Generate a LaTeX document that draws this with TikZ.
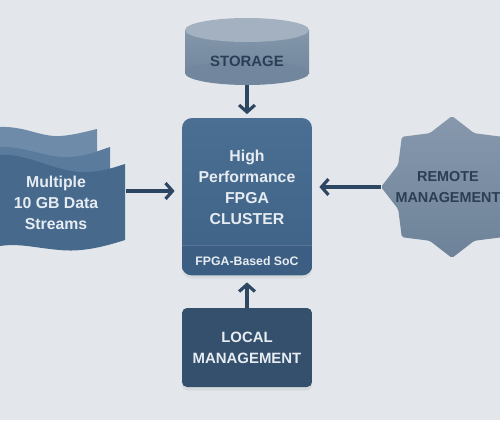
\documentclass[tikz,border=0pt]{standalone}
\usepackage{fontspec}
\setmainfont{Liberation Sans}
\usetikzlibrary{arrows.meta,shapes.geometric,shadows}

\definecolor{bgcol}{HTML}{E3E7EB}
\definecolor{linkcol}{HTML}{2D4763}
\definecolor{navytext}{HTML}{2C3E55}
\definecolor{lighttext}{HTML}{E6ECF2}
\definecolor{clustertop}{HTML}{4B6F93}
\definecolor{clusterbot}{HTML}{3E6286}
\definecolor{socband}{HTML}{3B5E82}
\definecolor{localcol}{HTML}{35506C}
\definecolor{storetop}{HTML}{A3B1C0}
\definecolor{storeup}{HTML}{8497AB}
\definecolor{storelow}{HTML}{72879D}
\definecolor{startop}{HTML}{8798AD}
\definecolor{starbot}{HTML}{6D8298}
\definecolor{sheetback}{HTML}{6E8CAA}
\definecolor{sheetmid}{HTML}{5A7B9C}
\definecolor{sheetfront}{HTML}{46698C}

\tikzset{
  link/.style={draw=linkcol, line width=1.8pt, -{Straight Barb[length=4pt,width=9pt]}},
  boxtext/.style={text=lighttext, font=\bfseries\fontsize{9}{12}\selectfont, align=center},
  darktext/.style={text=navytext, font=\bfseries\fontsize{8.5}{11.5}\selectfont, align=center},
  softshadow/.style={drop shadow={opacity=.12, shadow xshift=0pt, shadow yshift=-2pt}},
}

\begin{document}
\begin{tikzpicture}[x=0.02cm, y=-0.02cm]
  % canvas
  \clip (0,0) rectangle (500,420);
  \fill[bgcol] (0,0) rectangle (500,420);

  % storage
  \shade[top color=storeup, bottom color=storelow] (185,30) rectangle (309,73);
  \fill[storelow] (247,73) ellipse [x radius=62, y radius=12];
  \fill[storetop] (247,30) ellipse [x radius=62, y radius=12];
  \node[darktext] (storage) at (247,61) {STORAGE};
  \coordinate (storagebase) at (247,85);

  % fpga cluster
  \node[rounded corners=0.2cm, minimum width=2.6cm, minimum height=3.14cm,
        top color=clustertop, bottom color=clusterbot, softshadow] (cluster) at (247,196.5) {};
  \begin{scope}
    \clip[rounded corners=0.2cm] (cluster.south west) rectangle (cluster.north east);
    \fill[socband] (182,245) rectangle (312,276);
    \draw[white, opacity=.15] (182,245) -- (312,245);
  \end{scope}
  \node[boxtext] (clustertitle) at (247,187) {High\\Performance\\FPGA\\CLUSTER};
  \node[boxtext, font=\bfseries\fontsize{7}{8}\selectfont] (soc) at (247,261) {FPGA-Based SoC};

  % local management
  \node[fill=localcol, rounded corners=0.1cm, minimum width=2.6cm, minimum height=1.58cm,
        boxtext, font=\bfseries\fontsize{8.5}{12}\selectfont, softshadow] (local) at (247,347.5) {LOCAL\\MANAGEMENT};

  % remote management
  \node[star, star points=8, star point ratio=1.22, minimum size=2.84cm, inner sep=0pt,
        rounded corners=1pt, top color=startop, bottom color=starbot] (remote) at (452,187) {};
  \node[darktext, font=\bfseries\fontsize{8.2}{11.5}\selectfont] (remotetext) at (448,187) {REMOTE\\MANAGEMENT};

  % data streams
  \fill[sheetback] (0,127) .. controls (25,126) and (40,137) .. (60,136)
    .. controls (75,135) and (88,131) .. (97,129) -- (97,200) -- (0,200) -- cycle;
  \fill[sheetmid] (0,147) .. controls (25,146) and (45,158) .. (70,157)
    .. controls (88,156) and (100,150) .. (110,147) -- (110,230) -- (0,230) -- cycle;
  \fill[sheetfront] (0,155) .. controls (30,153) and (60,175) .. (90,172)
    .. controls (105,171) and (115,167) .. (125,164) -- (125,240)
    .. controls (100,248) and (80,252) .. (60,250)
    .. controls (35,248) and (20,243) .. (0,246) -- cycle;
  \node[boxtext] (streams) at (56,203) {Multiple\\10 GB Data\\Streams};
  \coordinate (streamsout) at (126,191);

  % links
  \draw[link, shorten >=2pt] (storagebase) -- (cluster.north);
  \draw[link, shorten >=4pt] (streamsout) -- (streamsout -| cluster.west);
  \draw[link, shorten >=4pt] (remote.west) -- (remote.west -| cluster.east);
  \draw[link, shorten >=4pt] (local.north) -- (cluster.south);
\end{tikzpicture}
\end{document}
